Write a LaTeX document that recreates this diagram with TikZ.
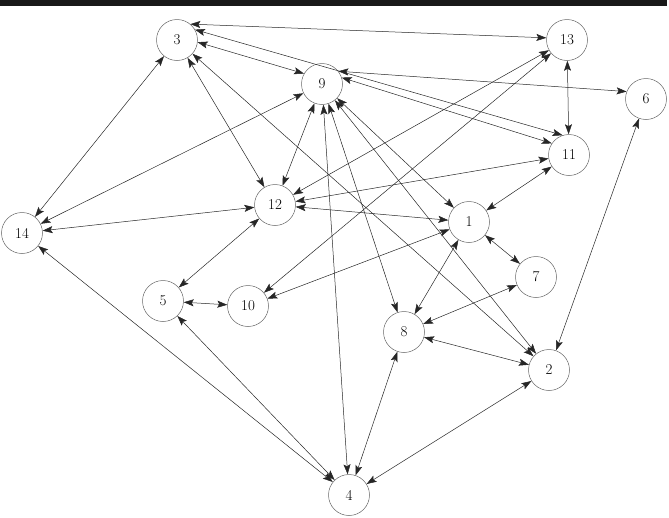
\documentclass[tikz,border=0pt]{standalone}
\usetikzlibrary{arrows.meta}
\begin{document}
\begin{tikzpicture}[x=1pt,y=-1pt,
 vtx/.style={circle, draw=black!60, line width=0.5pt, minimum size=41pt, inner sep=0pt, font=\fontsize{15}{18}\selectfont},
 link/.style={draw=black!85, line width=0.5pt, {Stealth[length=10pt,width=7pt,inset=2pt]}-{Stealth[length=10pt,width=7pt,inset=2pt]}}]
\useasboundingbox (0,0) rectangle (669,517);
\fill[black!90] (0,0) rectangle (667,6);
\node[vtx] (n3) at (177,40) {3};
\node[vtx] (n9) at (322,84) {9};
\node[vtx] (n13) at (567,40) {13};
\node[vtx] (n6) at (646,99) {6};
\node[vtx] (n11) at (569,155) {11};
\node[vtx] (n12) at (275,205) {12};
\node[vtx] (n1) at (469,222) {1};
\node[vtx] (n7) at (536,277) {7};
\node[vtx] (n14) at (22,233) {14};
\node[vtx] (n5) at (163,301) {5};
\node[vtx] (n10) at (248,306) {10};
\node[vtx] (n8) at (404,332) {8};
\node[vtx] (n2) at (549,370) {2};
\node[vtx] (n4) at (349,495) {4};
\draw[link] (n3.50) -- (n13.174);
\draw[link] (n3.30) -- (n11.108);
\draw[link] (n3.-6) -- (n9.150);
\draw[link] (n9.38) -- (n6.159);
\draw[link] (n9.18) -- (n11.146);
\foreach \a/\b in {n3/n14, n3/n12, n3/n2,
  n9/n14, n9/n12, n9/n1, n9/n8, n9/n2, n9/n4,
  n13/n11, n13/n12, n13/n10, n6/n2, n11/n12, n11/n1,
  n12/n14, n12/n1, n12/n5, n1/n10, n1/n7, n1/n8, n14/n4,
  n5/n10, n5/n4, n7/n8, n8/n2, n8/n4, n2/n4}
  \draw[link] (\a) -- (\b);
\end{tikzpicture}
\end{document}
